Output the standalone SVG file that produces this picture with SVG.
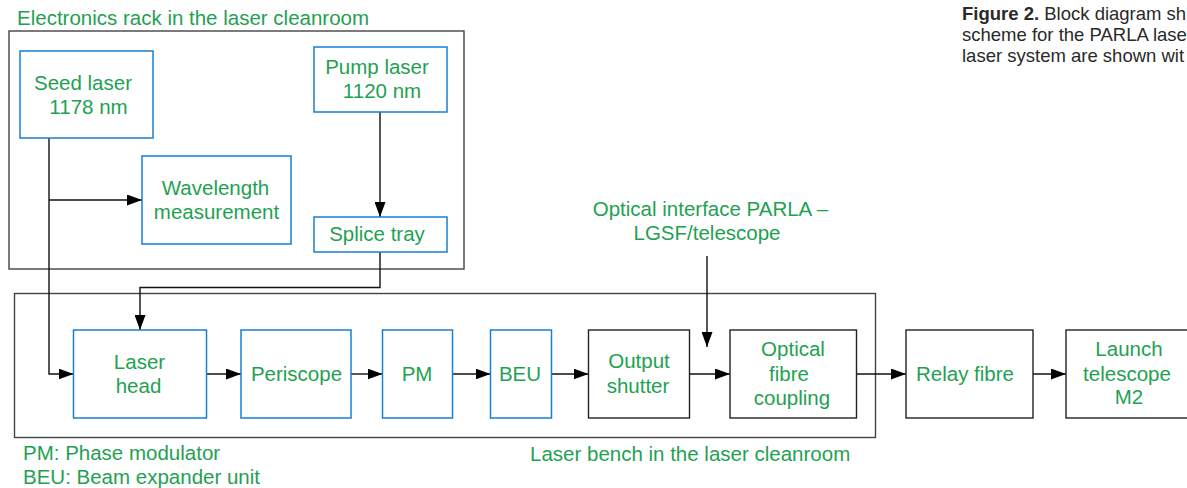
<svg xmlns="http://www.w3.org/2000/svg" width="1187" height="488" viewBox="0 0 1187 488">
<defs>
<marker id="ah" markerUnits="userSpaceOnUse" markerWidth="15" markerHeight="11" refX="15" refY="5.5" orient="auto">
<path d="M0,0 L15,5.5 L0,11 z" fill="#000"/>
</marker>
<style>
.lbl{font-family:"Liberation Sans",Arial,sans-serif;font-size:20.5px;fill:#1fa152;}
.mid{text-anchor:middle;}
.cap{font-family:"Liberation Sans",Arial,sans-serif;font-size:18.5px;fill:#2a2a2a;}
.blue{fill:#fff;stroke:#1a7fcf;stroke-width:1.5;}
.blk{fill:#fff;stroke:#222;stroke-width:1.4;}
.cont{fill:none;stroke:#444;stroke-width:1.4;}
.con{fill:none;stroke:#111;stroke-width:1.4;}
</style>
</defs>
<rect width="1187" height="488" fill="#fff"/>

<g id="caption">
<text class="cap" x="962" y="20"><tspan font-weight="bold">Figure 2.</tspan> Block diagram sh</text>
<text class="cap" x="962" y="41">scheme for the PARLA lase</text>
<text class="cap" x="962" y="62">laser system are shown wit</text>
</g>

<g id="electronics-rack">
<rect class="cont" x="9" y="31" width="455" height="238"/>
<text class="lbl" x="17" y="25">Electronics rack in the laser cleanroom</text>
</g>

<g id="laser-bench">
<rect class="cont" x="14.5" y="293.5" width="861" height="144"/>
<text class="lbl" x="530" y="461">Laser bench in the laser cleanroom</text>
</g>

<g id="legend">
<text class="lbl" x="23" y="460">PM: Phase modulator</text>
<text class="lbl" x="23" y="484">BEU: Beam expander unit</text>
</g>

<g id="connectors">
<polyline class="con" points="49,138 49,374 73.5,374" marker-end="url(#ah)"/>
<polyline class="con" points="49,200 142,200" marker-end="url(#ah)"/>
<polyline class="con" points="380,112 380,217" marker-end="url(#ah)"/>
<polyline class="con" points="380,252 380,287.5 140,287.5 140,330" stroke="#555" stroke-width="1.8" marker-end="url(#ah)"/>
<line class="con" x1="206.5" y1="374" x2="241" y2="374" marker-end="url(#ah)"/>
<line class="con" x1="351" y1="374" x2="382.5" y2="374" marker-end="url(#ah)"/>
<line class="con" x1="452.5" y1="374" x2="490.5" y2="374" marker-end="url(#ah)"/>
<line class="con" x1="551.5" y1="374" x2="588.5" y2="374" marker-end="url(#ah)"/>
<line class="con" x1="689.5" y1="374" x2="730" y2="374" marker-end="url(#ah)"/>
<line class="con" x1="856.5" y1="374" x2="906" y2="374" marker-end="url(#ah)"/>
<line class="con" x1="1033" y1="374" x2="1066" y2="374" marker-end="url(#ah)"/>
<line class="con" x1="707" y1="256" x2="707" y2="347" marker-end="url(#ah)"/>
</g>

<g id="seed-laser">
<rect class="blue" x="20" y="51" width="133" height="87"/>
<text class="lbl mid" x="83" y="89.5">Seed laser</text>
<text class="lbl mid" x="88.5" y="113.5">1178 nm</text>
</g>

<g id="pump-laser">
<rect class="blue" x="314" y="47" width="133" height="65"/>
<text class="lbl mid" x="377" y="73.5">Pump laser</text>
<text class="lbl mid" x="382" y="98">1120 nm</text>
</g>

<g id="wavelength-measurement">
<rect class="blue" x="142" y="156" width="149" height="88"/>
<text class="lbl mid" x="215.5" y="194.5">Wavelength</text>
<text class="lbl mid" x="216.5" y="218.5">measurement</text>
</g>

<g id="splice-tray">
<rect class="blue" x="314" y="217" width="133" height="35"/>
<text class="lbl mid" x="377" y="241">Splice tray</text>
</g>

<g id="optical-interface">
<text class="lbl mid" x="710.5" y="216">Optical interface PARLA –</text>
<text class="lbl mid" x="707" y="240">LGSF/telescope</text>
</g>

<g id="laser-head">
<rect class="blue" x="73.5" y="330" width="133" height="88"/>
<text class="lbl mid" x="139.5" y="368.5">Laser</text>
<text class="lbl mid" x="138.5" y="393">head</text>
</g>

<g id="periscope">
<rect class="blue" x="241" y="330" width="110" height="88"/>
<text class="lbl mid" x="296.5" y="380.5">Periscope</text>
</g>

<g id="pm">
<rect class="blue" x="382.5" y="330" width="70" height="88"/>
<text class="lbl mid" x="417" y="380.5">PM</text>
</g>

<g id="beu">
<rect class="blue" x="490.5" y="330" width="61" height="88"/>
<text class="lbl mid" x="520" y="380.5">BEU</text>
</g>

<g id="output-shutter">
<rect class="blk" x="588.5" y="330" width="101" height="88"/>
<text class="lbl mid" x="639" y="368">Output</text>
<text class="lbl mid" x="638" y="393">shutter</text>
</g>

<g id="optical-fibre-coupling">
<rect class="blk" x="730" y="330" width="126.5" height="88"/>
<text class="lbl mid" x="793" y="356">Optical</text>
<text class="lbl mid" x="789" y="380.5">fibre</text>
<text class="lbl mid" x="792" y="405">coupling</text>
</g>

<g id="relay-fibre">
<rect class="blk" x="906" y="330" width="127" height="88"/>
<text class="lbl mid" x="965" y="381">Relay fibre</text>
</g>

<g id="launch-telescope">
<rect class="blk" x="1066" y="330" width="127" height="88"/>
<text class="lbl mid" x="1129" y="356">Launch</text>
<text class="lbl mid" x="1127" y="380.5">telescope</text>
<text class="lbl mid" x="1129" y="404">M2</text>
</g>
</svg>
